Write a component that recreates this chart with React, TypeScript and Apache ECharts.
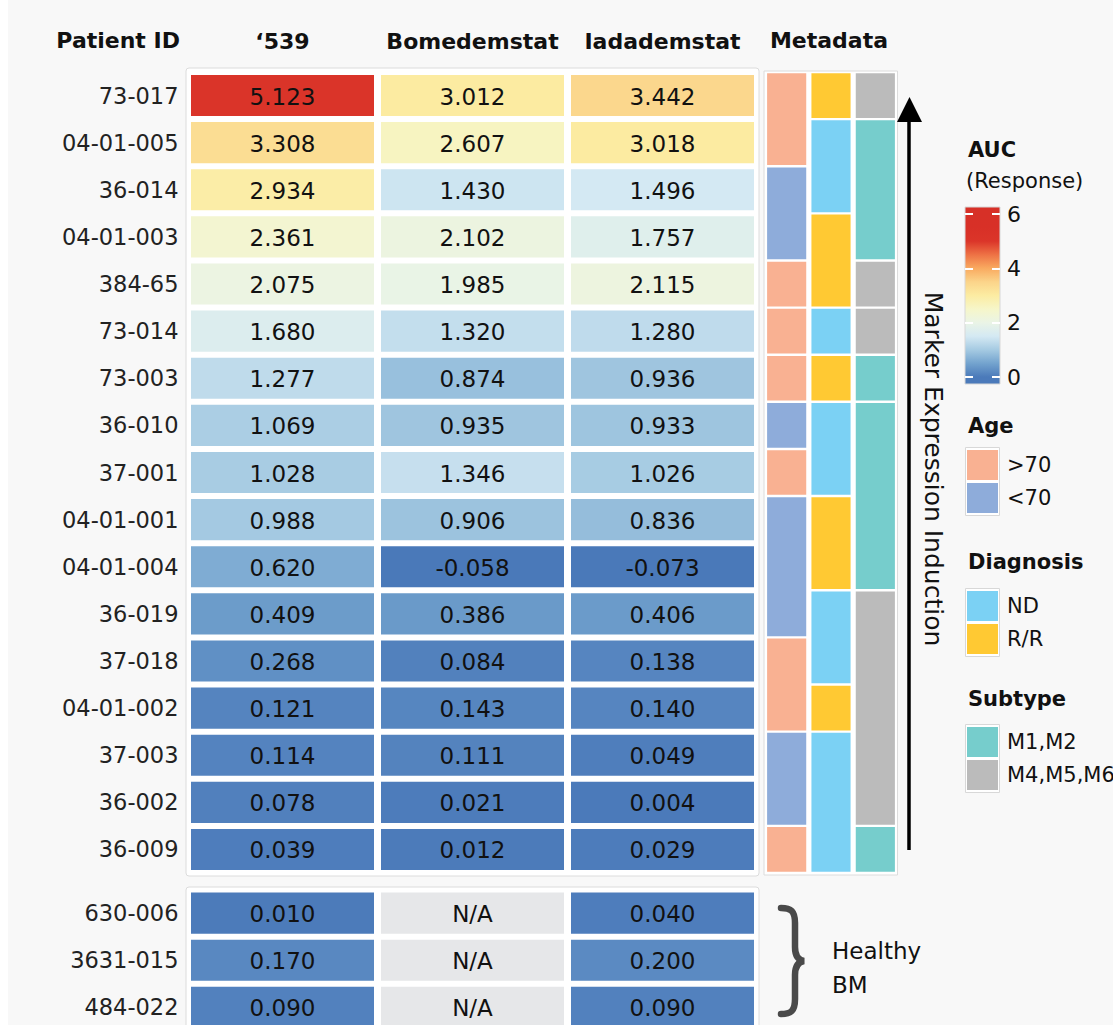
import React, { useEffect, useRef } from 'react';
import * as echarts from 'echarts';

// ---------- data ----------
const patients = ['73-017', '04-01-005', '36-014', '04-01-003', '384-65', '73-014', '73-003', '36-010', '37-001', '04-01-001', '04-01-004', '36-019', '37-018', '04-01-002', '37-003', '36-002', '36-009'];
const drugs = ['\u2018539', 'Bomedemstat', 'Iadademstat'];
const auc539 = [5.123, 3.308, 2.934, 2.361, 2.075, 1.680, 1.277, 1.069, 1.028, 0.988, 0.620, 0.409, 0.268, 0.121, 0.114, 0.078, 0.039];
const aucBomedemstat = [3.012, 2.607, 1.430, 2.102, 1.985, 1.320, 0.874, 0.935, 1.346, 0.906, -0.058, 0.386, 0.084, 0.143, 0.111, 0.021, 0.012];
const aucIadademstat = [3.442, 3.018, 1.496, 1.757, 2.115, 1.280, 0.936, 0.933, 1.026, 0.836, -0.073, 0.406, 0.138, 0.140, 0.049, 0.004, 0.029];

const healthyIds = ['630-006', '3631-015', '484-022'];
const healthy539 = [0.010, 0.170, 0.090];
const healthyBomedemstat = [null, null, null];
const healthyIadademstat = [0.040, 0.200, 0.090];

const metaColumns = ['Age', 'Diagnosis', 'Subtype'];
const ageLevels = ['>70', '<70'];
const ageColors = ['#f9b192', '#8eacda'];
const diagnosisLevels = ['ND', 'R/R'];
const diagnosisColors = ['#7bd1f4', '#ffc933'];
const subtypeLevels = ['M1,M2', 'M4,M5,M6'];
const subtypeColors = ['#76cdcc', '#bbbbbb'];
// [firstRow, lastRow, levelIndex]
const ageSegments = [[0, 1, 0], [2, 3, 1], [4, 4, 0], [5, 5, 0], [6, 6, 0], [7, 7, 1], [8, 8, 0], [9, 11, 1], [12, 13, 0], [14, 15, 1], [16, 16, 0]];
const diagnosisSegments = [[0, 0, 1], [1, 2, 0], [3, 4, 1], [5, 5, 0], [6, 6, 1], [7, 8, 0], [9, 10, 1], [11, 12, 0], [13, 13, 1], [14, 16, 0]];
const subtypeSegments = [[0, 0, 1], [1, 3, 0], [4, 4, 1], [5, 5, 1], [6, 6, 0], [7, 10, 0], [11, 15, 1], [16, 16, 0]];

const aucStops = [-0.5, 0, 0.5, 1, 1.5, 2, 2.5, 3, 3.5, 4, 4.5, 5, 5.5, 6];
const aucColors = ['#4270b1', '#4b7aba', '#73a3ce', '#a5cae2', '#d4e9f3', '#eaf4e6', '#f6f6c9', '#fceca2', '#fbd48a', '#f9aa60', '#ee7245', '#db3529', '#d83027', '#d73027'];
const aucTickMin = 0;
const aucTickMax = 6;
const aucTickStep = 2;

// ---------- style ----------
const FONT = '"DejaVu Sans", sans-serif';
const BG = '#f8f8f8';
const NA_COLOR = '#e6e7e9';

echarts.graphic.registerShape(
  'brace',
  echarts.graphic.extendPath('M 2 3 C 12 3 16 6 16 18 L 16 42 C 16 50 19 55 25 56 C 19 57 16 62 16 70 L 16 94 C 16 106 12 109 2 109', {})
);

function cellData(cols: (number | null)[][]) {
  const out: any[] = [];
  cols.forEach((vals, c) => vals.forEach((v, r) => out.push([c, r, v == null ? '-' : v])));
  return out;
}

const renderCell = (_p: any, api: any) => {
  const col = api.value(0);
  const row = api.value(1);
  const v = api.value(2);
  const c = api.coord([col, row]);
  const s = api.size([1, 1]);
  const w = s[0] - 7;
  const h = s[1] - 6;
  const na = v === '-' || v == null || isNaN(v);
  return {
    type: 'group',
    children: [
      { type: 'rect', shape: { x: c[0] - w / 2, y: c[1] - h / 2, width: w, height: h }, style: { fill: na ? NA_COLOR : api.visual('color') } },
      { type: 'text', x: c[0], y: c[1] + 1, style: { text: na ? 'N/A' : Number(v).toFixed(3), fill: '#111', fontFamily: FONT, fontSize: 23, align: 'center', verticalAlign: 'middle' } },
    ],
  };
};

const metaPalettes = [ageColors, diagnosisColors, subtypeColors];
const metaData: number[][] = [];
[ageSegments, diagnosisSegments, subtypeSegments].forEach((segs, c) => segs.forEach((s) => metaData.push([c, s[0], s[1], s[2]])));

const renderMeta = (_p: any, api: any) => {
  const col = api.value(0);
  const r0 = api.value(1);
  const r1 = api.value(2);
  const lvl = api.value(3);
  const a = api.coord([col, r0]);
  const b = api.coord([col, r1]);
  const s = api.size([1, 1]);
  const x = a[0] - s[0] / 2 + 2.6;
  const y = a[1] - s[1] / 2 + 1.2;
  const h = b[1] + s[1] / 2 - 1.2 - y;
  return { type: 'rect', shape: { x, y, width: s[0] - 5.2, height: h }, style: { fill: metaPalettes[col][lvl] } };
};

function legendBlock(title: string, titleY: number, levels: string[], colors: string[], top: number) {
  const els: any[] = [
    { type: 'text', x: 968, y: titleY, style: { text: title, fontFamily: FONT, fontSize: 21, fontWeight: 'bold', fill: '#111', verticalAlign: 'middle' } },
    { type: 'rect', z: 1, shape: { x: 965.5, y: top - 2.5, width: 34, height: levels.length * 33 + 2 }, style: { fill: '#fff', stroke: '#d8d8d8', lineWidth: 1 } },
  ];
  levels.forEach((l, i) => {
    els.push({ type: 'rect', z: 2, shape: { x: 967, y: top + i * 33, width: 31, height: 30 }, style: { fill: colors[i] } });
    els.push({ type: 'text', x: 1007, y: top + 15 + i * 33, style: { text: l, fontFamily: FONT, fontSize: 21, fill: '#111', verticalAlign: 'middle' } });
  });
  return els;
}

// colour bar geometry (legend)
const cbTop = 207;
const cbBottom = 384;
const cbV0y = 377;
const cbV6y = 214;
const unit = (cbV0y - cbV6y) / (aucTickMax - aucTickMin);
const vTop = aucTickMax + (cbV6y - cbTop) / unit;
const vBot = aucTickMin - (cbBottom - cbV0y) / unit;
const gradStops: any[] = [];
aucStops.forEach((v, i) => {
  const off = (vTop - v) / (vTop - vBot);
  if (off >= 0 && off <= 1) gradStops.push({ offset: off, color: aucColors[i] });
});
gradStops.push({ offset: 0, color: aucColors[aucColors.length - 1] });
gradStops.sort((a, b) => a.offset - b.offset);

export default function App() {
  const ref = useRef<HTMLDivElement>(null);
  useEffect(() => {
    if (!ref.current) return;
    const chart = echarts.init(ref.current, null, { renderer: 'svg' });
    const hiddenAxis = { axisLine: { show: false }, axisTick: { show: false }, splitLine: { show: false } };
    const rowLabel = { fontFamily: FONT, fontSize: 22.5, color: '#222', margin: 9, interval: 0, padding: [0, 0, 6, 0] };
    const option: any = {
      animation: false,
      backgroundColor: BG,
      grid: [
        { left: 187.5, top: 72, width: 570, height: 801 },
        { left: 187.5, top: 889.5, width: 570, height: 141.4 },
        { left: 764.5, top: 72, width: 133, height: 801 },
        { left: 965, top: cbV6y, width: 35, height: cbV0y - cbV6y },
      ],
      xAxis: [
        { gridIndex: 0, type: 'category', data: drugs, position: 'top', ...hiddenAxis, axisLabel: { fontFamily: FONT, fontSize: 22, fontWeight: 'bold', color: '#111', margin: 20, interval: 0 } },
        { gridIndex: 1, type: 'category', data: drugs, show: false },
        { gridIndex: 2, type: 'category', data: metaColumns, show: false },
        { gridIndex: 3, type: 'value', min: 0, max: 1, show: false },
      ],
      yAxis: [
        { gridIndex: 0, type: 'category', data: patients, inverse: true, ...hiddenAxis, axisLabel: rowLabel },
        { gridIndex: 1, type: 'category', data: healthyIds, inverse: true, ...hiddenAxis, axisLabel: rowLabel },
        { gridIndex: 2, type: 'category', data: patients, inverse: true, show: false },
        { gridIndex: 3, type: 'value', min: aucTickMin, max: aucTickMax, interval: aucTickStep, position: 'left', z: 10, axisLine: { show: false }, splitLine: { show: false }, axisTick: { show: true, inside: true, length: 8, lineStyle: { color: '#fff', width: 2 } }, axisLabel: { show: false } },
        { gridIndex: 3, type: 'value', min: aucTickMin, max: aucTickMax, interval: aucTickStep, position: 'right', z: 10, axisLine: { show: false }, splitLine: { show: false }, axisTick: { show: true, inside: true, length: 8, lineStyle: { color: '#fff', width: 2 } }, axisLabel: { show: true, fontFamily: FONT, fontSize: 22, color: '#111', margin: 7 } },
      ],
      visualMap: {
        show: false,
        type: 'continuous',
        min: aucStops[0],
        max: aucStops[aucStops.length - 1],
        dimension: 2,
        seriesIndex: [0, 1],
        inRange: { color: aucColors },
      },
      series: [
        { type: 'custom', xAxisIndex: 0, yAxisIndex: 0, renderItem: renderCell, encode: { x: 0, y: 1 }, data: cellData([auc539, aucBomedemstat, aucIadademstat]), silent: true, z: 5 },
        { type: 'custom', xAxisIndex: 1, yAxisIndex: 1, renderItem: renderCell, encode: { x: 0, y: 1 }, data: cellData([healthy539, healthyBomedemstat, healthyIadademstat]), silent: true, z: 5 },
        { type: 'custom', xAxisIndex: 2, yAxisIndex: 2, renderItem: renderMeta, encode: { x: 0, y: 1 }, data: metaData, silent: true, z: 5 },
        { type: 'scatter', xAxisIndex: 3, yAxisIndex: 3, data: [], silent: true },
      ],
      graphic: [
        { type: 'rect', z: 0, shape: { x: 0, y: 0, width: 8, height: 1100 }, style: { fill: '#fff' } },
        { type: 'rect', z: 1, shape: { x: 186, y: 68, width: 573, height: 808, r: 3 }, style: { fill: '#fff', stroke: '#dcdcdc', lineWidth: 1 } },
        { type: 'rect', z: 1, shape: { x: 186, y: 887, width: 573, height: 160, r: 3 }, style: { fill: '#fff', stroke: '#dcdcdc', lineWidth: 1 } },
        { type: 'rect', z: 1, shape: { x: 764, y: 71, width: 133.5, height: 804 }, style: { fill: '#fff', stroke: '#dcdcdc', lineWidth: 1 } },
        { type: 'text', x: 180, y: 40, style: { text: 'Patient ID', fontFamily: FONT, fontSize: 22, fontWeight: 'bold', fill: '#111', align: 'right', verticalAlign: 'middle' } },
        { type: 'text', x: 829, y: 40, style: { text: 'Metadata', fontFamily: FONT, fontSize: 22, fontWeight: 'bold', fill: '#111', align: 'center', verticalAlign: 'middle' } },
        // arrow
        { type: 'line', z: 3, shape: { x1: 909, y1: 118, x2: 909, y2: 850 }, style: { stroke: '#000', lineWidth: 3.5 } },
        { type: 'polygon', z: 3, shape: { points: [[897, 122], [922, 122], [909.5, 97]] }, style: { fill: '#000' } },
        { type: 'text', x: 933, y: 469, rotation: -Math.PI / 2, style: { text: 'Marker Expression Induction', fontFamily: FONT, fontSize: 25, fill: '#111', align: 'center', verticalAlign: 'middle' } },
        // AUC legend
        { type: 'text', x: 968, y: 150, style: { text: 'AUC', fontFamily: FONT, fontSize: 21, fontWeight: 'bold', fill: '#111', verticalAlign: 'middle' } },
        { type: 'text', x: 966, y: 181, style: { text: '(Response)', fontFamily: FONT, fontSize: 21, fill: '#111', verticalAlign: 'middle' } },
        { type: 'rect', z: 1, shape: { x: 965, y: cbTop, width: 35, height: cbBottom - cbTop }, style: { fill: { type: 'linear', x: 0, y: 0, x2: 0, y2: 1, colorStops: gradStops }, stroke: '#d8d8d8', lineWidth: 1 } },
        ...legendBlock('Age', 426, ageLevels, ageColors, 450),
        ...legendBlock('Diagnosis', 562, diagnosisLevels, diagnosisColors, 591),
        ...legendBlock('Subtype', 699, subtypeLevels, subtypeColors, 727),
        // healthy brace
        { type: 'brace', z: 3, x: 779, y: 905, style: { fill: 'none', stroke: '#4a4a4a', lineWidth: 6.5, lineCap: 'round' } },
        { type: 'text', x: 832, y: 951, style: { text: 'Healthy', fontFamily: FONT, fontSize: 23, fill: '#111', verticalAlign: 'middle' } },
        { type: 'text', x: 832, y: 985, style: { text: 'BM', fontFamily: FONT, fontSize: 23, fill: '#111', verticalAlign: 'middle' } },
      ],
    };
    chart.setOption(option);
    return () => chart.dispose();
  }, []);
  return (
    <div style={{ position: 'fixed', left: 0, top: 0, width: 1113, height: 1025, overflow: 'hidden' }}>
      <div ref={ref} style={{ position: 'absolute', left: 0, top: 0, width: 1113, height: 1080 }} />
    </div>
  );
}
